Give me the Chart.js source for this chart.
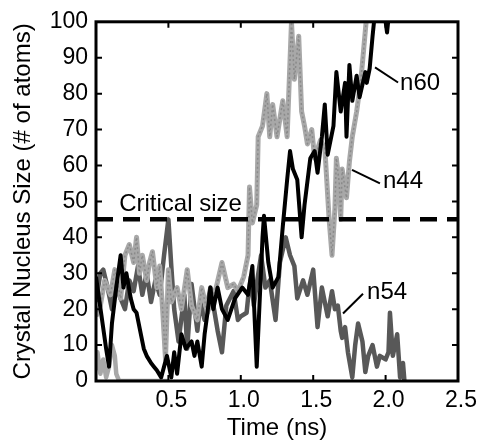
<!DOCTYPE html>
<html><head><meta charset="utf-8">
<script src="https://cdn.jsdelivr.net/npm/chart.js@4.4.0/dist/chart.umd.min.js"></script>
<style>html,body{margin:0;padding:0;background:#fff;}#wrap{width:481px;height:447px;}</style>
</head><body><div id="wrap"><canvas id="c" width="481" height="447"></canvas></div>
<script>
// ---- data (time in ns, size in # of atoms) ----
const n60Time = [0,0.035,0.07,0.09,0.11,0.14,0.16,0.17,0.19,0.21,0.24,0.26,0.28,0.31,0.33,0.35,0.38,0.40,0.42,0.45,0.47,0.49,0.52,0.54,0.56,0.59,0.62,0.66,0.68,0.70,0.73,0.75,0.77,0.79,0.81,0.84,0.87,0.91,0.96,1.01,1.05,1.08,1.11,1.15,1.16,1.19,1.22,1.26,1.29,1.32,1.34,1.36,1.39,1.42,1.44,1.48,1.51,1.53,1.56,1.58,1.60,1.64,1.66,1.69,1.72,1.73,1.75,1.77,1.80,1.82,1.86,1.87,1.89,1.91,1.93,1.96,1.99,2.01,2.02];
const n60Size = [29,19,9,4,16,26,32,35,26,30,23,20,19,13,9,7,5,4,3,1,4,7,1,8,2,13,9,11,7,11,4,13,19,26,20,26,20,17,23,26,24,32,4,40,46,33,26,29,43,56,64,59,56,40,49,62,64,58,68,77,63,71,86,75,83,68,88,78,85,79,86,83,87,96,104,106,103,97,101];

const n44Time = [0,0.03,0.06,0.10,0.13,0.17,0.20,0.23,0.26,0.28,0.30,0.32,0.35,0.37,0.39,0.42,0.44,0.46,0.48,0.50,0.52,0.56,0.59,0.63,0.66,0.70,0.73,0.77,0.80,0.83,0.87,0.91,0.95,0.98,1.02,1.05,1.06,1.08,1.11,1.12,1.15,1.18,1.20,1.22,1.25,1.29,1.32,1.35,1.37,1.40,1.42,1.44,1.46,1.49,1.51,1.55,1.58,1.61,1.63,1.65,1.66,1.68,1.69,1.70,1.73,1.75,1.77,1.80,1.83,1.85,1.87];
const n44Size = [18,21,28,24,31,23,35,38,33,40,30,35,28,33,36,26,32,20,6,31,22,26,20,31,21,17,26,19,23,26,33,26,27,25,29,35,54,44,49,68,71,80,68,77,68,78,68,100,84,96,75,71,66,70,62,67,65,45,35,48,62,55,45,59,51,61,68,75,84,93,102];

const n54Time = [0,0.03,0.05,0.08,0.11,0.13,0.17,0.20,0.23,0.26,0.29,0.32,0.35,0.38,0.41,0.44,0.47,0.50,0.52,0.54,0.57,0.61,0.63,0.66,0.70,0.72,0.75,0.79,0.84,0.87,0.90,0.95,0.98,1.00,1.04,1.05,1.07,1.09,1.11,1.14,1.17,1.20,1.24,1.27,1.31,1.34,1.37,1.39,1.43,1.46,1.50,1.53,1.56,1.60,1.63,1.65,1.67,1.69,1.70,1.72,1.74,1.77,1.79,1.81,1.84,1.86,1.88,1.91,1.94,1.96,2.00,2.02,2.03,2.05,2.08,2.10,2.12,2.13];
const n54Size = [22,30,31,26,20,27,23,20,28,25,32,24,30,22,28,24,35,45,32,20,11,24,9,27,14,22,17,26,14,8,21,25,17,18,19,23,29,21,27,35,26,28,17,33,40,35,32,23,28,24,31,15,26,18,25,20,21,14,12,15,8,1,10,16,11,2.5,7,10,4,7,6,8,19,7,13,1,5,0];

const otherTime = [0,0.01,0.03,0.05,0.07,0.09,0.11,0.13,0.14,0.16,0.30,0.50];
const otherSize = [3,8,2,6,1,4,10,7,2,0,0,0];

const criticalSize = 45;
const xTickValues = [0.5,1.0,1.5,2.0,2.5];
const yTickValues = [0,10,20,30,40,50,60,70,80,90,100];

const pts = (t, v) => t.map((x, i) => ({x: x, y: v[i]}));
const FONT = '"Liberation Sans", Arial, sans-serif';

const decor = {
  id: 'decor',
  afterDatasetsDraw(chart) {
    const {ctx, chartArea: a, scales: {x, y}} = chart;
    ctx.save();
    ctx.strokeStyle = '#000'; ctx.lineWidth = 2;
    ctx.beginPath();
    xTickValues.forEach(v => {
      const px = x.getPixelForValue(v);
      if (px < a.right - 2) {
        ctx.moveTo(px, a.bottom); ctx.lineTo(px, a.bottom - 6);
        ctx.moveTo(px, a.top); ctx.lineTo(px, a.top + 6);
      }
    });
    yTickValues.forEach(v => {
      const py = y.getPixelForValue(v);
      if (py > a.top + 2 && py < a.bottom - 2) {
        ctx.moveTo(a.left, py); ctx.lineTo(a.left + 6, py);
        ctx.moveTo(a.right, py); ctx.lineTo(a.right - 6, py);
      }
    });
    ctx.stroke();
    ctx.lineWidth = 3;
    ctx.strokeRect(a.left, a.top, a.right - a.left, a.bottom - a.top);
    ctx.fillStyle = '#000';
    ctx.font = '24px ' + FONT;
    ctx.textAlign = 'left'; ctx.textBaseline = 'alphabetic';
    const txt = (s, t, v) => ctx.fillText(s, x.getPixelForValue(t), y.getPixelForValue(v));
    txt('Critical size', 0.16, 47.2);
    txt('n60', 2.10, 80.9);
    txt('n44', 1.982, 53.6);
    txt('n54', 1.872, 22.9);
    ctx.lineWidth = 2;
    const seg = (t1, v1, t2, v2) => {
      ctx.beginPath();
      ctx.moveTo(x.getPixelForValue(t1), y.getPixelForValue(v1));
      ctx.lineTo(x.getPixelForValue(t2), y.getPixelForValue(v2));
      ctx.stroke();
    };
    seg(1.927, 87.3, 2.086, 83.1);
    seg(1.768, 58.8, 1.961, 55.0);
    seg(1.844, 24.3, 1.706, 18.8);
    ctx.restore();
  }
};

const common = {pointRadius: 0, tension: 0, fill: false, clip: 0, borderJoinStyle: 'round'};

new Chart(document.getElementById('c'), {
  type: 'line',
  data: {
    datasets: [
      Object.assign({label: 'Critical size', data: [{x: 0, y: criticalSize}, {x: 2.5, y: criticalSize}],
        borderColor: '#000', borderWidth: 4.5, borderDash: [17, 10], order: 1}, common),
      Object.assign({label: 'n60', data: pts(n60Time, n60Size), borderColor: '#000', borderWidth: 4, order: 0}, common),
      Object.assign({label: 'n44 texture', data: pts(n44Time, n44Size), borderColor: '#8a8a8a', borderWidth: 1.5, borderDash: [2, 2.5], order: 2}, common),
      Object.assign({label: 'n44', data: pts(n44Time, n44Size), borderColor: '#a8a8a8', borderWidth: 5, order: 3}, common),
      Object.assign({label: 'other', data: pts(otherTime, otherSize), borderColor: '#a8a8a8', borderWidth: 4.5, order: 4}, common),
      Object.assign({label: 'n54', data: pts(n54Time, n54Size), borderColor: '#585858', borderWidth: 4.5, order: 5}, common)
    ]
  },
  options: {
    responsive: false, animation: false, devicePixelRatio: 1,
    layout: {padding: {top: 19, right: 23, left: 0, bottom: 0}},
    plugins: {legend: {display: false}, tooltip: {enabled: false}},
    scales: {
      x: {
        type: 'linear', min: 0, max: 2.5,
        afterFit(s) { s.height = 66; },
        grid: {display: false, drawTicks: false}, border: {display: false},
        afterBuildTicks(s) { s.ticks = xTickValues.map(v => ({value: v})); },
        ticks: {color: '#000', font: {family: FONT, size: 23}, padding: 6, maxRotation: 0, autoSkip: false,
          labelOffset: 3, callback: v => Number(v).toFixed(1)},
        title: {display: true, text: 'Time (ns)', color: '#000', font: {family: FONT, size: 24}, padding: {top: 0, bottom: 4}}
      },
      y: {
        type: 'linear', min: 0, max: 100,
        afterFit(s) { s.width = 96; },
        grid: {display: false, drawTicks: false}, border: {display: false},
        afterBuildTicks(s) { s.ticks = yTickValues.map(v => ({value: v})); },
        ticks: {color: '#000', font: {family: FONT, size: 23}, padding: 8, autoSkip: false,
          callback: v => String(v)},
        title: {display: true, text: 'Crystal Nucleus Size (# of atoms)', color: '#000', font: {family: FONT, size: 24}, padding: {top: 9, bottom: 0}}
      }
    }
  },
  plugins: [decor]
});
</script></body></html>
